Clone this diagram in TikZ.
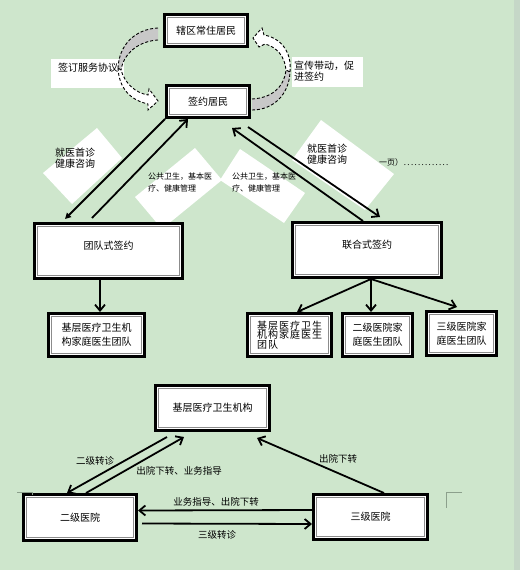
\documentclass[tikz,border=0pt]{standalone}
\usepackage{fontspec}
\setmainfont{Noto Sans CJK SC}
\usetikzlibrary{arrows.meta,calc}
\definecolor{bg}{RGB}{206,230,204}
\definecolor{strip}{RGB}{197,215,199}
\definecolor{ribbon}{RGB}{200,200,200}
\definecolor{cmarkc}{RGB}{140,160,140}
\newcommand\fsz[1]{\fontsize{#1}{#1}\selectfont}
\begin{document}
\begin{tikzpicture}[x=1pt,y=-1pt,
  wbox/.style={draw=black, line width=2.6pt, fill=white, inner sep=0pt, align=center, font=\fsz{10},
    path picture={\draw[black!45, line width=1pt]
      ([shift={(2.8pt,-2.8pt)}]path picture bounding box.north west) rectangle
      ([shift={(-2.8pt,2.8pt)}]path picture bounding box.south east);}},
  lbl/.style={inner sep=0pt, font=\fsz{10}, align=left},
  small/.style={inner sep=0pt, font=\fsz{8}, align=left},
  conn/.style={line width=1.8pt, -{Straight Barb[length=6pt,width=10pt]}},
  rib/.style={draw=black, line width=0.9pt, dash pattern=on 3pt off 2pt},
  cmark/.style={draw=cmarkc, line width=0.6pt}]
\useasboundingbox (0,0) rectangle (520,570);
\fill[bg] (0,0) rectangle (520,570);
\fill[strip] (514,0) rectangle (520,570);

% white text-box backgrounds
\fill[white] (97,128) -- (122,158) -- (72,204) -- (43,173) -- cycle;
\fill[white] (195,148) -- (222,180) -- (162,229) -- (135,197) -- cycle;
\fill[white] (240,149) -- (305,193) -- (284,223) -- (220,180) -- cycle;
\fill[white] (321,120) -- (394,174) -- (365,210) -- (292,160) -- cycle;
\fill[white] (51,59) rectangle (124,88);
\fill[white] (292,57) rectangle (363,87);

% boxes
\node[wbox, minimum width=83.4pt, minimum height=32.4pt] (res) at (206,30.5) {辖区常住居民};
\node[wbox, minimum width=83.4pt, minimum height=32.4pt] (sign) at (208,101.5) {签约居民};
\node[wbox, minimum width=148.4pt, minimum height=55.4pt] (team) at (108.5,251) {团队式签约\\[2pt]~};
\node[wbox, minimum width=149.4pt, minimum height=55.4pt] (union) at (367,250) {联合式签约\\[2pt]~};
\node[wbox, minimum width=96.4pt, minimum height=43.4pt] (b1) at (96.5,335) {基层医疗卫生机\\[4pt]构家庭医生团队};
\node[wbox, minimum width=84.4pt, minimum height=43.4pt, align=left,
      font=\fontsize{10}{9.5}\selectfont\addfontfeature{LetterSpace=10}] (r1) at (289.5,335) {基层医疗卫生\\机构家庭医生\\团队};
\node[wbox, minimum width=70.4pt, minimum height=43.4pt] (r2) at (377.5,335) {二级医院家\\[4pt]庭医生团队};
\node[wbox, minimum width=70.4pt, minimum height=44.4pt] (r3) at (461.5,333.5) {三级医院家\\[4pt]庭医生团队};
\node[wbox, minimum width=114.4pt, minimum height=45.4pt] (base) at (212.5,408) {基层医疗卫生机构};
\node[wbox, minimum width=113.4pt, minimum height=46.4pt] (sec) at (80,517.5) {二级医院};
\node[wbox, minimum width=114.4pt, minimum height=45.4pt] (ter) at (370.5,517) {三级医院};

% curved block arrows
\fill[ribbon] (158,28) .. controls (135,29) and (119,45) .. (118,68) -- (121,70) .. controls (124,52) and (140,41) .. (158,40) -- cycle;
\draw[rib] (158,28) .. controls (135,29) and (119,45) .. (118,68);
\draw[rib] (158,40) .. controls (140,41) and (124,52) .. (121,70);
\filldraw[fill=white, rib] (118,68) .. controls (119,88) and (130,100) .. (148,104) -- (148,110) -- (158,101) -- (149,89) -- (148,95) .. controls (136,93) and (125,84) .. (121,70) -- cycle;

\fill[ribbon] (252,99) .. controls (271,98) and (284,88) .. (286,70) -- (290,72) .. controls (289,95) and (273,110) .. (252,110) -- cycle;
\draw[rib] (252,99) .. controls (271,98) and (284,88) .. (286,70);
\draw[rib] (252,110) .. controls (273,110) and (289,95) .. (290,72);
\filldraw[fill=white, rib] (290,72) .. controls (292,52) and (281,38) .. (264,35) -- (262,28) -- (253,38) -- (259,47) -- (265,44) .. controls (277,47) and (285,57) .. (286,70) -- cycle;

% labels
\node[lbl, anchor=west] (l1) at (58,68) {签订服务协议};
\node[lbl, anchor=west] (l2) at (294,71.5) {宣传带动，促\\[1pt]进签约};
\node[lbl, anchor=west] (l3) at (55,158.5) {就医首诊\\[1pt]健康咨询};
\node[small, anchor=west] (l4) at (148,182) {公共卫生，基本医\\[4pt]疗、健康管理};
\node[small, anchor=west] (l5) at (232,182) {公共卫生，基本医\\[4pt]疗、健康管理};
\node[lbl, anchor=west] (l6) at (307,154.5) {就医首诊\\[1pt]健康咨询};
\node[small, anchor=west] (l7) at (379,162) {一页）\makebox[46pt]{\dotfill}};

\node[lbl, font=\fsz{9.5}] (m1) at (95,461) {二级转诊};
\node[lbl, font=\fsz{9.5}] (m2) at (179,471) {出院下转、业务指导};
\node[lbl, font=\fsz{9.5}] (m3) at (338,459) {出院下转};
\node[lbl, font=\fsz{9.5}] (m4) at (216,502) {业务指导、出院下转};
\node[lbl, font=\fsz{9.5}] (m5) at (217,535) {三级转诊};

% connectors
\draw[conn, -{Triangle[length=6pt,width=6pt]}] (sign.south west) -- ([xshift=32pt,yshift=3pt]team.north west);
\draw[conn] ([xshift=59pt,yshift=4pt]team.north west) -- ([xshift=23pt]sign.south west);
\draw[conn] ([xshift=72pt]union.north west) -- ([xshift=67pt,yshift=-9pt]sign.south west);
\draw[conn] ([xshift=83pt,yshift=-8pt]sign.south west) -- ([xshift=89pt,yshift=4pt]union.north west);
\draw[conn] ([xshift=67pt]team.south west) -- ([xshift=53pt]b1.north west);
\draw[conn] ([xshift=80pt]union.south west) -- ([xshift=51pt]r1.north west);
\draw[conn] ([xshift=80pt]union.south west) -- ([xshift=30pt]r2.north west);
\draw[conn] ([xshift=80pt]union.south west) -- ([xshift=32pt,yshift=3pt]r3.north west);

\draw[conn] ([xshift=13pt,yshift=-5pt]base.south west) -- ([xshift=45pt]sec.north west);
\draw[conn] ([xshift=64pt]sec.north west) -- ([xshift=30pt,yshift=-5pt]base.south west);
\draw[conn] ([xshift=72pt]ter.north west) -- ([xshift=103pt,yshift=-6pt]base.south west);
\draw[conn] ([yshift=7pt]ter.west) -- ([yshift=7pt]sec.east);
\draw[conn] ([xshift=4pt,yshift=-6pt]sec.east) -- ([yshift=-7pt]ter.west);

% page corner marks
\draw[cmark] (17,492) -- (32,492) -- (32,495);
\draw[cmark] (462,492) -- (446,492) -- (446,508);
\end{tikzpicture}
\end{document}
